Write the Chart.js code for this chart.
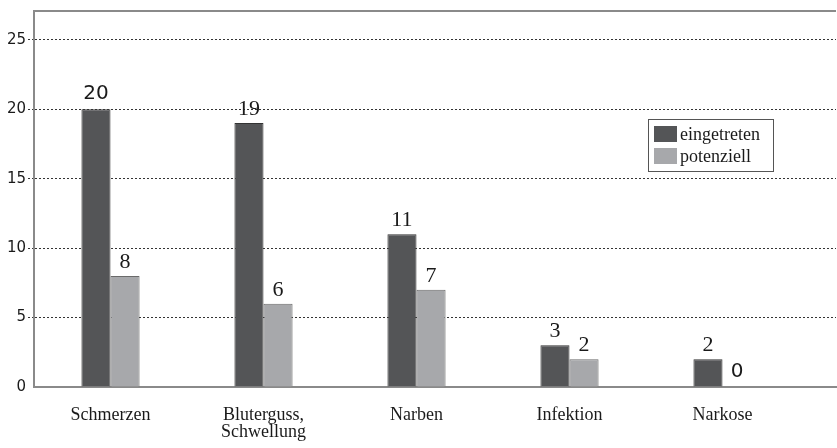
<!DOCTYPE html>
<html lang="de">
<head>
    <meta charset="UTF-8">
    <title>Komplikationen</title>
    <script src="https://cdn.jsdelivr.net/npm/chart.js"></script>
    <style>
        html, body { margin: 0; padding: 0; background: #fff; }
        #wrap { width: 837px; height: 448px; }
    </style>
</head>
<body>
    <div id="wrap"><canvas id="chart" width="837" height="448"></canvas></div>

    <script>
        // data
        const categories = ['Schmerzen', ['Bluterguss,', 'Schwellung'], 'Narben', 'Infektion', 'Narkose'];
        const seriesNames = ['eingetreten', 'potenziell'];
        const eingetreten = [20, 19, 11, 3, 2];
        const potenziell = [8, 6, 7, 2, 0];
        const yTicks = [0, 5, 10, 15, 20, 25];

        const DARK = '#545557';
        const LIGHT = '#a7a8ab';
        const SERIF = '"Liberation Serif", "DejaVu Serif", serif';
        const SANS = '"DejaVu Sans", Verdana, sans-serif';

        // labels that are set in a sans face in the original
        const sansLabels = ['0-0', '1-4'];

        const toPoints = arr => arr.map((v, i) => ({ x: i, y: v }));

        // value labels above the bars
        const valueLabels = {
            id: 'valueLabels',
            afterDatasetsDraw(chart) {
                const ctx = chart.ctx;
                ctx.save();
                ctx.fillStyle = '#1a1a1a';
                ctx.textAlign = 'center';
                ctx.textBaseline = 'alphabetic';
                chart.data.datasets.forEach((ds, di) => {
                    chart.getDatasetMeta(di).data.forEach((bar, i) => {
                        const sans = sansLabels.includes(di + '-' + i);
                        ctx.font = sans ? '20px ' + SANS : '22px ' + SERIF;
                        ctx.fillText(String(ds.data[i].y), bar.x, bar.y - (sans ? 10 : 8));
                    });
                });
                ctx.restore();
            }
        };

        // top frame line and boxed legend inside the plot
        const frameAndLegend = {
            id: 'frameAndLegend',
            afterDraw(chart) {
                const ctx = chart.ctx;
                const a = chart.chartArea;
                ctx.save();
                ctx.strokeStyle = '#8a8a8a';
                ctx.lineWidth = 2;
                ctx.beginPath();
                ctx.moveTo(a.left - 1, a.top);
                ctx.lineTo(a.right, a.top);
                ctx.stroke();

                const x = 648.5, y = 119.5, w = 125, h = 52;
                ctx.fillStyle = '#fff';
                ctx.fillRect(x, y, w, h);
                ctx.strokeStyle = '#555';
                ctx.lineWidth = 1;
                ctx.strokeRect(x, y, w, h);
                ctx.font = '18px ' + SERIF;
                ctx.textAlign = 'left';
                ctx.textBaseline = 'middle';
                chart.data.datasets.forEach((ds, i) => {
                    const cy = 134 + i * 22;
                    ctx.fillStyle = ds.backgroundColor;
                    ctx.fillRect(654, cy - 8, 23, 16);
                    ctx.fillStyle = '#1a1a1a';
                    ctx.fillText(seriesNames[i], 680, cy + 1);
                });
                ctx.restore();
            }
        };

        new Chart(document.getElementById('chart'), {
            type: 'bar',
            data: {
                datasets: [{
                    label: seriesNames[0],
                    data: toPoints(eingetreten),
                    backgroundColor: DARK,
                    borderColor: '#333',
                    borderWidth: 1
                }, {
                    label: seriesNames[1],
                    data: toPoints(potenziell),
                    backgroundColor: LIGHT,
                    borderColor: '#6a6a6a',
                    borderWidth: 1
                }]
            },
            options: {
                responsive: false,
                animation: false,
                categoryPercentage: 0.38,
                barPercentage: 1,
                layout: { padding: { top: 10, right: 1 } },
                plugins: {
                    legend: { display: false },
                    tooltip: { enabled: false }
                },
                scales: {
                    x: {
                        type: 'linear',
                        offset: false,
                        bounds: 'data',
                        min: -0.5,
                        max: -0.5 + 802 / 153,
                        afterFit: s => { s.height = 61; },
                        afterBuildTicks: s => { s.ticks = categories.map((c, i) => ({ value: i })); },
                        grid: { display: false },
                        border: { color: '#8a8a8a', width: 2 },
                        ticks: {
                            autoSkip: false,
                            maxRotation: 0,
                            padding: 12,
                            color: '#1a1a1a',
                            font: { family: SERIF, size: 18, lineHeight: 0.95 },
                            callback: v => categories[v] !== undefined ? categories[v] : ''
                        }
                    },
                    y: {
                        min: 0,
                        max: 27.07,
                        afterFit: s => { s.width = 34; },
                        afterBuildTicks: s => { s.ticks = yTicks.map(v => ({ value: v })); },
                        border: { color: '#8a8a8a', width: 2, dash: [2, 2] },
                        grid: {
                            color: c => c.tick.value === 0 ? 'rgba(0,0,0,0)' : '#333',
                            lineWidth: 1,
                            tickLength: 6,
                            tickBorderDash: [2, 2]
                        },
                        ticks: {
                            padding: 2,
                            color: '#1a1a1a',
                            font: { family: SANS, size: 15 }
                        }
                    }
                }
            },
            plugins: [valueLabels, frameAndLegend]
        });
    </script>
</body>
</html>
